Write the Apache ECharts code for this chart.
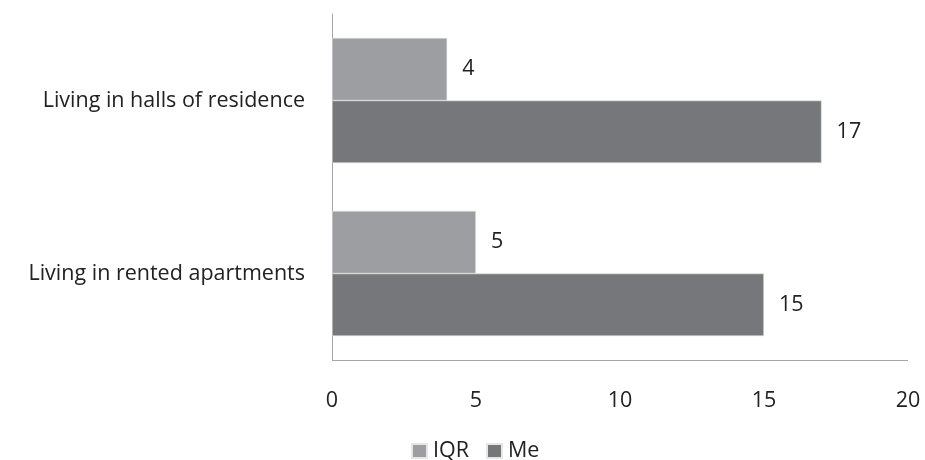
<!DOCTYPE html>
<html><head><meta charset="utf-8">
<script src="https://cdn.jsdelivr.net/npm/echarts@6/dist/echarts.min.js"></script>
<style>html,body{margin:0;padding:0;background:#fff}#c{width:925px;height:460px}</style>
</head><body><div id="c"></div>
<script>
const categories = ['Living in halls of residence', 'Living in rented apartments'];
const iqrValues = [4, 5];
const meValues = [17, 15];
const xTicks = [0, 5, 10, 15, 20];

const font = 'Open Sans';
const fs = 21.5;
const chart = echarts.init(document.getElementById('c'));
chart.setOption({
  animation: false,
  textStyle: { fontFamily: font },
  grid: { left: 332, right: 17, top: 14, bottom: 100 },
  legend: {
    data: ['IQR', 'Me'],
    bottom: -7,
    left: 406,
    icon: 'rect',
    itemWidth: 15, itemHeight: 14, itemGap: 17,
    textStyle: { fontFamily: font, fontSize: fs, color: '#222', padding: [0, 0, 0, 1] }
  },
  xAxis: {
    type: 'value', min: 0, max: 20, interval: 5,
    axisLine: { show: false }, axisTick: { show: false },
    splitLine: { show: false },
    axisLabel: { fontFamily: font, fontSize: fs, color: '#222', margin: 30 }
  },
  yAxis: {
    type: 'category', data: categories, inverse: true,
    axisLine: { show: true, lineStyle: { color: '#a6a6a6', width: 1 } },
    axisTick: { show: false },
    axisLabel: { fontFamily: font, fontSize: fs, color: '#222', margin: 27 }
  },
  series: [
    {
      name: 'IQR', type: 'bar', data: iqrValues, barCategoryGap: '27.6%', barGap: '0%',
      itemStyle: { color: '#9d9ea1', borderColor: '#e6e6e6', borderWidth: 0.6 },
      label: { show: true, position: 'right', distance: 15, fontFamily: font, fontSize: fs, color: '#222' }
    },
    {
      name: 'Me', type: 'bar', data: meValues, barCategoryGap: '27.6%', barGap: '0%',
      itemStyle: { color: '#76777a', borderColor: '#e6e6e6', borderWidth: 0.6 },
      label: { show: true, position: 'right', distance: 15, fontFamily: font, fontSize: fs, color: '#222' },
      markLine: {
        silent: true, symbol: 'none', label: { show: false },
        lineStyle: { color: '#a6a6a6', type: 'solid', width: 1 },
        data: [[{ coord: [0, 'Living in rented apartments'], y: 360 }, { coord: [20, 'Living in rented apartments'], y: 360 }]]
      }
    }
  ]
});
</script></body></html>
